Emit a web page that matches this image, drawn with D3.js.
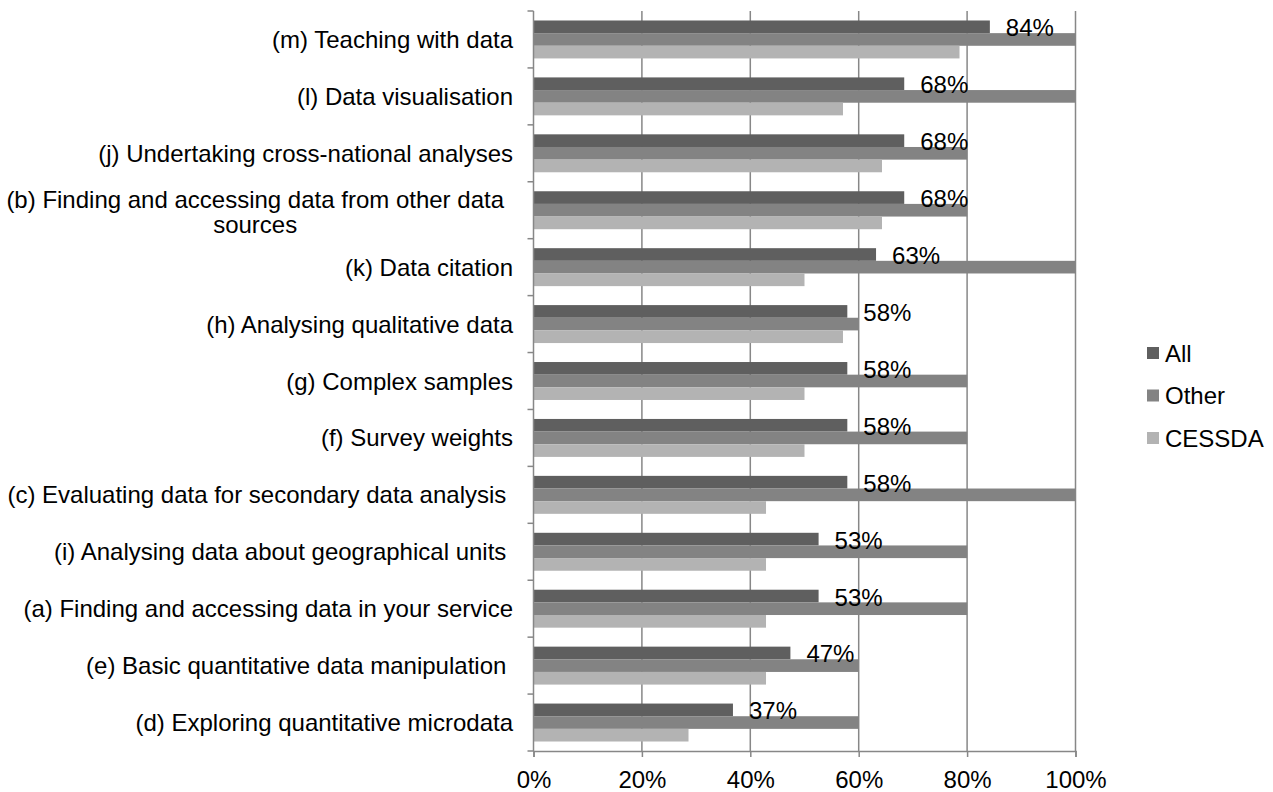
<!DOCTYPE html>
<html>
<head>
<meta charset="utf-8">
<script src="https://cdn.jsdelivr.net/npm/d3@7/dist/d3.min.js"></script>
<style>
  html, body { margin: 0; padding: 0; background: #fff; }
  svg { display: block; }
  text { font-family: "Liberation Sans", Arial, sans-serif; fill: #000; white-space: pre; }
</style>
</head>
<body>
<svg id="chart" width="1273" height="792"></svg>
<script>
const categories = [
  "(m) Teaching with data",
  "(l) Data visualisation",
  "(j) Undertaking cross-national analyses",
  "(b) Finding and accessing data from other data sources",
  "(k) Data citation",
  "(h) Analysing qualitative data",
  "(g) Complex samples",
  "(f) Survey weights",
  "(c) Evaluating data for secondary data analysis ",
  "(i) Analysing data about geographical units ",
  "(a) Finding and accessing data in your service",
  "(e) Basic quantitative data manipulation ",
  "(d) Exploring quantitative microdata"
];
const seriesNames = ["All", "Other", "CESSDA"];
const allValues    = [84.2, 68.4, 68.4, 68.4, 63.2, 57.9, 57.9, 57.9, 57.9, 52.6, 52.6, 47.4, 36.8];
const otherValues  = [100, 100, 80, 80, 100, 60, 80, 80, 100, 80, 80, 60, 60];
const cessdaValues = [78.6, 57.1, 64.3, 64.3, 50.0, 57.1, 50.0, 50.0, 42.9, 42.9, 42.9, 42.9, 28.6];
const allLabels = ["84%", "68%", "68%", "68%", "63%", "58%", "58%", "58%", "58%", "53%", "53%", "47%", "37%"];
const xTicks = [0, 20, 40, 60, 80, 100];
const colors = ["#5f5f5f", "#838383", "#b3b3b3"];

const seriesValues = [allValues, otherValues, cessdaValues];
const svg = d3.select("#chart");
const fontSize = 24;
const gridColor = "#878787";
const plotTop = 11, plotBottom = 751;

const x = d3.scaleLinear().domain([0, 100]).range([533.5, 1075.5]);
const y = d3.scaleBand().domain(categories).range([plotTop, plotBottom]).padding(0);
const ySub = d3.scaleBand().domain(seriesNames).range([0, y.bandwidth()]).paddingInner(0).paddingOuter(0.75);

// gridlines
svg.append("g").selectAll("line").data(xTicks.slice(1)).join("line")
  .attr("x1", d => x(d)).attr("x2", d => x(d))
  .attr("y1", plotTop).attr("y2", plotBottom)
  .attr("stroke", gridColor).attr("stroke-width", 1.5);

// bars
const groups = svg.append("g").selectAll("g").data(categories).join("g")
  .attr("transform", c => `translate(0,${y(c)})`);
groups.each(function(c, i) {
  d3.select(this).selectAll("rect").data(seriesNames).join("rect")
    .attr("x", x(0))
    .attr("y", s => ySub(s))
    .attr("width", (s, j) => x(seriesValues[j][i]) - x(0))
    .attr("height", ySub.bandwidth())
    .attr("fill", (s, j) => colors[j]);
});

// data labels for All
svg.append("g").selectAll("text").data(categories).join("text")
  .attr("x", (c, i) => x(allValues[i]) + 16)
  .attr("y", c => y(c) + ySub("All") + ySub.bandwidth() / 2 + 1)
  .attr("dominant-baseline", "central")
  .style("font-size", fontSize + "px")
  .text((c, i) => allLabels[i]);

// x axis
const xAxis = d3.axisBottom(x).tickValues(xTicks).tickFormat(d => d + "%").tickSize(6);
const gx = svg.append("g").attr("transform", `translate(0,${plotBottom})`).call(xAxis);
gx.select(".domain").attr("stroke", gridColor).attr("stroke-width", 1.5);
gx.selectAll(".tick line").attr("stroke", gridColor).attr("stroke-width", 1.5);
gx.selectAll(".tick text").style("font-size", fontSize + "px").attr("font-family", null)
  .attr("fill", "#000").attr("y", 28.5).attr("dy", null).attr("dominant-baseline", "central");

// y axis line and ticks at band boundaries
const yTickPos = categories.map(c => y(c)).concat([plotBottom]);
svg.append("line").attr("x1", x(0)).attr("x2", x(0)).attr("y1", plotTop).attr("y2", plotBottom)
  .attr("stroke", gridColor).attr("stroke-width", 1.5);
svg.append("g").selectAll("line").data(yTickPos).join("line")
  .attr("x1", x(0) - 6).attr("x2", x(0))
  .attr("y1", d => d).attr("y2", d => d)
  .attr("stroke", gridColor).attr("stroke-width", 1.5);

// category labels
const labelRight = 513;
const catG = svg.append("g");
categories.forEach((c, i) => {
  const cy = y(c) + y.bandwidth() / 2;
  if (c.startsWith("(b)")) {
    const line1 = "(b) Finding and accessing data from other data";
    const line2 = "sources";
    const t1 = catG.append("text").style("font-size", fontSize + "px").text(line1);
    const w1 = t1.node().getComputedTextLength();
    const cx = 504 - w1 / 2;
    t1.attr("x", cx).attr("y", cy - 11).attr("text-anchor", "middle").attr("dominant-baseline", "central");
    catG.append("text").style("font-size", fontSize + "px").text(line2)
      .attr("x", cx).attr("y", cy + 14).attr("text-anchor", "middle").attr("dominant-baseline", "central");
  } else {
    catG.append("text").style("font-size", fontSize + "px").text(c)
      .attr("x", labelRight).attr("y", cy).attr("text-anchor", "end").attr("dominant-baseline", "central");
  }
});

// legend
const legend = svg.append("g");
const legendY = [353, 395.5, 438];
seriesNames.forEach((s, j) => {
  legend.append("rect").attr("x", 1147).attr("y", legendY[j] - 6).attr("width", 12).attr("height", 12).attr("fill", colors[j]);
  legend.append("text").attr("x", 1165).attr("y", legendY[j]).attr("dominant-baseline", "central")
    .style("font-size", fontSize + "px").text(s);
});
</script>
</body>
</html>
